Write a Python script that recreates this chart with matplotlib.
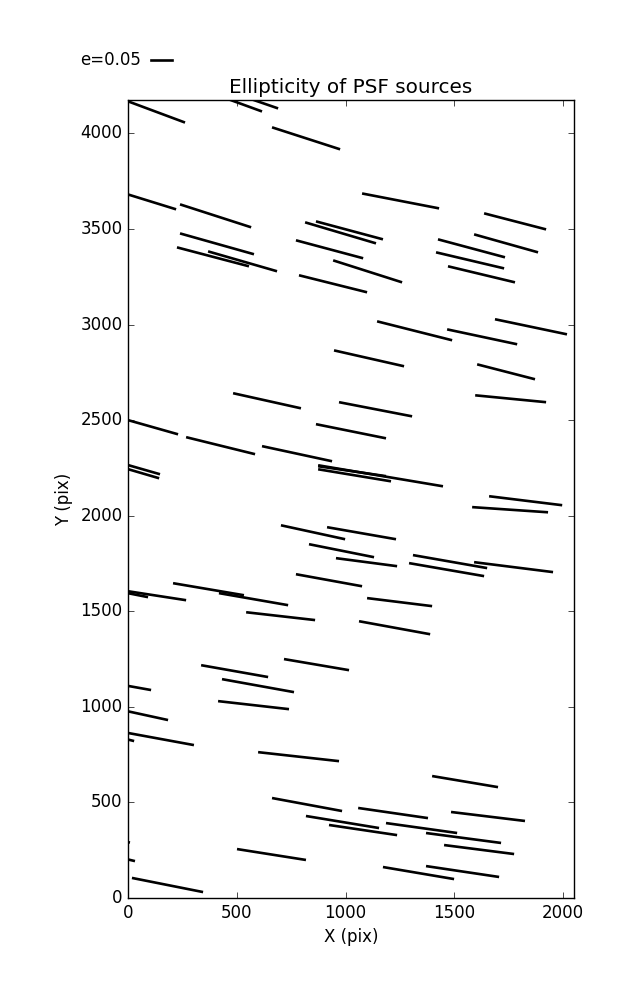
import matplotlib
matplotlib.use('Agg')
import matplotlib.pyplot as plt
from matplotlib.lines import Line2D

# segment endpoints of the PSF ellipticity whiskers (pixel coords on the chip)
x0 = [-40, 464, 570, 662, -46, 239, 239, 225, 368, 814, 864, 772, 943, 786,
      1076, 1637, 1591, 1425, 1416, 1471,
      947, 483, 970, 864, -46, 267, 616, -46, -46, 874, 874, 874,
      1145, 1467, 1687, 1605, 1596, 1660, 1582,
      703, 915, 832, 956, 1310, 1292, 1591, 772, 1099, 1062,
      -46, -46, 207, 418, 543, 336, 717, 432, -46, 414, -46, -46, -46, 598,
      662, 818, 924, -46, -46, 18, 501,
      1398, 1058, 1485, 1186, 1370, 1453, 1172, 1370]
y0 = [4185, 4178, 4178, 4032, 3697, 3629, 3477, 3404, 3383, 3535, 3540, 3441, 3336, 3258,
      3686, 3582, 3472, 3446, 3378, 3305,
      2865, 2641, 2594, 2479, 2515, 2411, 2364, 2280, 2259, 2259, 2243, 2264,
      3017, 2975, 3028, 2792, 2630, 2102, 2045,
      1950, 1940, 1851, 1778, 1794, 1752, 1757, 1694, 1569, 1448,
      1605, 1613, 1647, 1595, 1495, 1218, 1250, 1145, 1119, 1030, 988, 873, 842, 763,
      523, 429, 382, 303, 214, 105, 256,
      638, 471, 450, 392, 340, 277, 162, 167]
x1 = [262, 616, 690, 975, 221, 566, 579, 556, 685, 1140, 1172, 1081, 1260, 1099,
      1430, 1922, 1885, 1733, 1729, 1779,
      1269, 795, 1306, 1186, 230, 584, 938, 147, 143, 1186, 1209, 1448,
      1490, 1789, 2018, 1871, 1922, 1996, 1931,
      998, 1232, 1131, 1237, 1651, 1637, 1954, 1076, 1398, 1389,
      92, 267, 533, 736, 860, 644, 1016, 763, 106, 740, 184, 303, 28, 970,
      984, 1154, 1237, 9, 32, 345, 818,
      1701, 1379, 1825, 1513, 1715, 1775, 1499, 1706]
y1 = [4057, 4115, 4131, 3917, 3603, 3509, 3368, 3305, 3279, 3425, 3446, 3347, 3221, 3169,
      3608, 3498, 3378, 3352, 3294, 3221,
      2782, 2562, 2520, 2405, 2426, 2322, 2285, 2217, 2196, 2207, 2180, 2154,
      2918, 2897, 2949, 2714, 2594, 2055, 2018,
      1877, 1877, 1783, 1736, 1726, 1684, 1705, 1631, 1527, 1380,
      1574, 1558, 1584, 1532, 1454, 1156, 1192, 1077, 1088, 988, 931, 800, 821, 716,
      455, 366, 329, 290, 193, 31, 199,
      580, 418, 403, 340, 288, 230, 99, 110]

plt.style.use('classic')
fig = plt.figure(figsize=(6.37, 10), dpi=100, facecolor='white')
ax = fig.add_axes([0.201, 0.102, 0.700, 0.798])

for a, b, c, d in zip(x0, y0, x1, y1):
    ax.plot([a, c], [b, d], color='black', lw=1.9, solid_capstyle='butt')

ax.set_xlim(0, 2050)
ax.set_ylim(0, 4175)
ax.set_xticks([0, 500, 1000, 1500, 2000])
ax.set_yticks([0, 500, 1000, 1500, 2000, 2500, 3000, 3500, 4000])
ax.set_xlabel('X (pix)')
ax.set_ylabel('Y (pix)')
ax.set_title('Ellipticity of PSF sources', fontsize=14.4)

# key for the whisker length
fig.add_artist(Line2D([0.237, 0.270], [0.940, 0.940], color='black', lw=1.9,
                      transform=fig.transFigure))
fig.text(0.222, 0.940, 'e=0.05', ha='right', va='center', fontsize=12)

fig.savefig('out.png', dpi=100, facecolor='white')
